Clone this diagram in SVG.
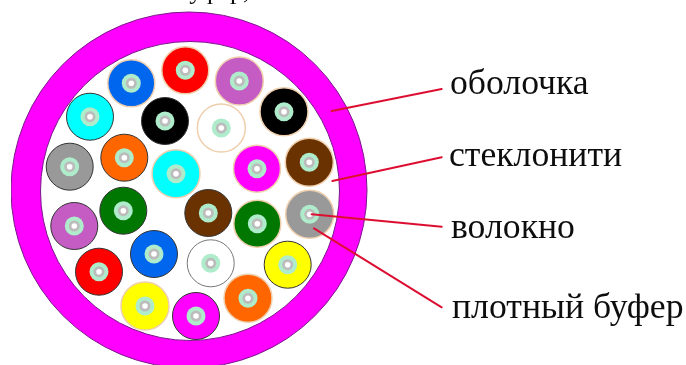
<svg xmlns="http://www.w3.org/2000/svg" width="686" height="365" viewBox="0 0 686 365">
<style>
.t{font-family:"Liberation Serif","Times New Roman",serif;fill:#111}
.l{font-size:35.7px}
.p{stroke:#efcfae;stroke-width:1.5}
.d{stroke:#333;stroke-width:1}
.a{fill:#aeeccb}.b{fill:#bcbcbc}.c{fill:#fff}
.w{fill:none;stroke:#dd1133;stroke-width:2;stroke-linecap:round}
</style>
<defs>
<filter id="s" x="0" y="0" width="1" height="1" filterUnits="objectBoundingBox"><feGaussianBlur stdDeviation="0.4"/></filter>
<g id="core"><circle class="a" r="9.5"/><circle class="b" r="5.5"/><circle class="c" r="2.8"/></g>
</defs>
<rect width="686" height="365" fill="#fff"/>
<g filter="url(#s)">
<g id="top-text"><text class="t" x="177" y="-1" font-size="26">буфер,</text></g>
<g id="jacket"><circle cx="189" cy="190" r="178" fill="#ff00ff" stroke="#7a1a8a"/><circle cx="190" cy="191" r="149.5" fill="#fff" stroke="#7a1a8a"/></g>
<g id="fibers">
<g id="f1" transform="translate(131.3 83.3)"><circle r="23.5" fill="#0066ee" class="p"/><use href="#core"/></g>
<g id="f2" transform="translate(185.3 70.3)"><circle r="23.5" fill="#ff0000" class="p"/><use href="#core"/></g>
<g id="f3" transform="translate(90 116.7)"><circle r="23.5" fill="#00ffff" class="d"/><use href="#core"/></g>
<g id="f4" transform="translate(165 121)"><circle r="23.5" fill="#000" class="d"/><use href="#core"/></g>
<g id="f5" transform="translate(69.7 166.7)"><circle r="23.5" fill="#999" class="d"/><use href="#core"/></g>
<g id="f6" transform="translate(124.3 157.7)"><circle r="23.5" fill="#ff6600" class="d"/><use href="#core"/></g>
<g id="f7" transform="translate(176 173.7)"><circle r="24" fill="#00ffff" class="p"/><use href="#core"/></g>
<g id="f8" transform="translate(239.3 81)"><circle r="24" fill="#c45cc4" class="p"/><use href="#core"/></g>
<g id="f9" transform="translate(284 111.7)"><circle r="24" fill="#000" class="p"/><use href="#core"/></g>
<g id="f10" transform="translate(221.3 128)"><circle r="24" fill="#fff" class="p"/><use href="#core"/></g>
<g id="f11" transform="translate(257 168.7)"><circle r="23.5" fill="#ff00ff" class="p"/><use href="#core"/></g>
<g id="f12" transform="translate(309.3 162.3)"><circle r="24" fill="#6b3300" class="p"/><use href="#core"/></g>
<g id="f13" transform="translate(123.3 210.7)"><circle r="23.5" fill="#007700" class="d"/><use href="#core"/></g>
<g id="f14" transform="translate(74.3 226)"><circle r="23.5" fill="#c45cc4" class="d"/><use href="#core"/></g>
<g id="f15" transform="translate(154 254)"><circle r="23.5" fill="#0066ee" class="d"/><use href="#core"/></g>
<g id="f16" transform="translate(99 271.7)"><circle r="23.5" fill="#ff0000" class="d"/><use href="#core"/></g>
<g id="f17" transform="translate(145 306)"><circle r="24" fill="#ffff00" class="p"/><use href="#core"/></g>
<g id="f18" transform="translate(196 316)"><circle r="23.5" fill="#ff00ff" class="d"/><use href="#core"/></g>
<g id="f19" transform="translate(248 298.3)"><circle r="24" fill="#ff6600" class="p"/><use href="#core"/></g>
<g id="f20" transform="translate(210.7 263.3)"><circle r="23.5" fill="#fff" stroke="#777" stroke-width="1"/><use href="#core"/></g>
<g id="f21" transform="translate(287.7 264.7)"><circle r="23.5" fill="#ffff00" class="d"/><use href="#core"/></g>
<g id="f22" transform="translate(257.3 223.7)"><circle r="23.5" fill="#007700" class="p"/><use href="#core"/></g>
<g id="f23" transform="translate(208.3 213)"><circle r="23.5" fill="#6b3300" class="d"/><use href="#core"/></g>
<g id="f24" transform="translate(309.7 214.3)"><circle r="24" fill="#999" class="p"/><use href="#core"/></g>
</g>
<g id="connectors">
<line class="w" x1="331.7" y1="111" x2="441.7" y2="89"/>
<line class="w" x1="332.3" y1="181" x2="441.7" y2="157.3"/>
<line class="w" x1="311.7" y1="214.3" x2="441.7" y2="226.7"/>
<line class="w" x1="314" y1="228.3" x2="441.7" y2="307.3"/>
</g>
<g id="label-1"><text class="t l" x="450" y="94">оболочка</text></g>
<g id="label-2"><text class="t l" x="449" y="166">стеклонити</text></g>
<g id="label-3"><text class="t l" x="451" y="238">волокно</text></g>
<g id="label-4"><text class="t l" x="452" y="318">плотный буфер</text></g>
</g>
</svg>
